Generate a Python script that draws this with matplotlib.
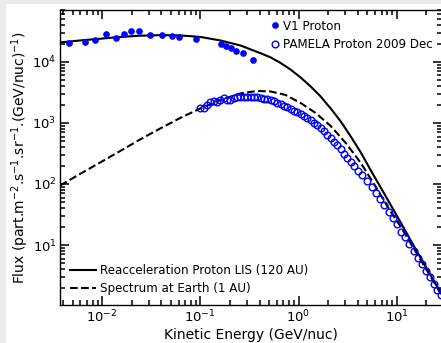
import matplotlib
matplotlib.use("Agg")
import matplotlib.pyplot as plt
from matplotlib.patches import Rectangle

# Voyager 1 proton flux (GeV/nuc, part/m2/s/sr/(GeV/nuc))
v1_energy = [0.00464, 0.00665, 0.00855, 0.0110, 0.0139, 0.01664, 0.0198, 0.0239,
             0.0307, 0.0407, 0.0514, 0.0601, 0.0910, 0.164, 0.184, 0.204,
             0.229, 0.270, 0.340]
v1_flux = [2.03e4, 2.13e4, 2.27e4, 2.91e4, 2.50e4, 2.91e4, 3.26e4, 3.18e4,
           2.80e4, 2.74e4, 2.70e4, 2.60e4, 2.38e4, 1.95e4, 1.85e4, 1.72e4,
           1.50e4, 1.39e4, 1.09e4]

# PAMELA protons, December 2009
pam_energy = [0.100, 0.110, 0.117, 0.126, 0.137, 0.148, 0.160, 0.173, 0.187, 0.202,
              0.219, 0.237, 0.256, 0.277, 0.300, 0.324, 0.350, 0.379, 0.410, 0.443,
              0.479, 0.518, 0.559, 0.606, 0.655, 0.708, 0.767, 0.828, 0.895, 0.970,
              1.048, 1.133, 1.227, 1.325, 1.432, 1.552, 1.675, 1.811, 1.963, 2.121,
              2.293, 2.483, 2.684, 2.900, 3.140, 3.394, 3.668, 4.027, 4.466, 4.943,
              5.521, 6.109, 6.760, 7.419, 8.222, 9.034, 10.0, 10.99, 12.07, 13.36,
              14.80, 16.26, 17.87, 19.77, 21.72, 23.68, 25.59, 28.12]
pam_flux = [1742, 1742, 1972, 2234, 2294, 2234, 2381, 2541, 2381, 2381,
            2541, 2700, 2700, 2700, 2700, 2700, 2700, 2636, 2541, 2472,
            2427, 2339, 2250, 2128, 2027, 1923, 1807, 1698, 1592, 1497,
            1406, 1303, 1208, 1099, 1000, 910, 813, 726, 636, 557,
            489, 428, 368, 311, 267, 230, 197, 166, 141, 112,
            89.3, 71.1, 56.7, 45.3, 35.4, 27.7, 21.7, 16.6, 13.3, 10.4,
            7.98, 6.24, 4.89, 3.82, 2.99, 2.30, 1.86, 1.51]

# reacceleration model, LIS at 120 AU
lis_energy = [0.00373, 0.00597, 0.00955, 0.01528, 0.0244, 0.0391, 0.0625, 0.1, 0.160,
              0.256, 0.410, 0.518, 0.655, 0.828, 1.048, 1.325, 1.675, 2.121, 2.684,
              3.394, 4.30, 5.44, 7.73, 11.0, 15.6, 22.2, 29.4]
lis_flux = [2.09e4, 2.25e4, 2.40e4, 2.57e4, 2.69e4, 2.75e4, 2.72e4, 2.57e4, 2.25e4,
            1.86e4, 1.39e4, 1.19e4, 9.63e3, 7.50e3, 5.57e3, 3.97e3, 2.72e3, 1.73e3,
            1.06e3, 601, 328, 166, 62.4, 23.0, 8.43, 3.16, 1.43]

# modulated spectrum at 1 AU
earth_energy = [0.00373, 0.00597, 0.00955, 0.01528, 0.0244, 0.0391, 0.0625, 0.1, 0.160,
                0.256, 0.379, 0.518, 0.736, 1.048, 1.489, 2.121, 3.02, 4.30, 6.11,
                8.69, 11.0, 15.6, 22.2, 29.4]
earth_flux = [94.4, 146, 225, 347, 537, 813, 1208, 1730, 2381,
              3048, 3350, 3284, 2877, 2128, 1459, 893, 470, 221, 89.3,
              34.8, 19.7, 7.67, 2.99, 1.38]

fig = plt.figure(figsize=(4.41, 3.43), dpi=100, facecolor="white")
# thin grey margin along the top and left edges
fig.patches.append(Rectangle((0, 0), 6 / 441, 1, transform=fig.transFigure,
                             facecolor="#ebebeb", edgecolor="none"))
fig.patches.append(Rectangle((0, 1 - 4 / 343), 1, 4 / 343, transform=fig.transFigure,
                             facecolor="#ebebeb", edgecolor="none"))
ax = fig.add_axes([60 / 441, 38 / 343, 382 / 441, 295 / 343])

l1, = ax.plot(lis_energy, lis_flux, color="black", lw=1.5,
              label="Reacceleration Proton LIS (120 AU)")
l2, = ax.plot(earth_energy, earth_flux, color="black", lw=1.5, ls="--",
              label="Spectrum at Earth (1 AU)")
p1, = ax.plot(v1_energy, v1_flux, "o", color="blue", ms=3.8, ls="none",
              label="V1 Proton", zorder=3)
p2, = ax.plot(pam_energy, pam_flux, "o", mfc="none", mec="blue", mew=1.0, ms=4.8,
              ls="none", label="PAMELA Proton 2009 Dec", zorder=3)

ax.set_xscale("log")
ax.set_yscale("log")
ax.set_xlim(3.73e-3, 28.8)
ax.set_ylim(1.04, 7.1e4)
for side in ax.spines.values():
    side.set_linewidth(1.0)
ax.tick_params(which="both", direction="in", top=True, right=True, labelsize=9.5,
               width=1.1, pad=2.5, color="black")
ax.tick_params(which="major", length=6.5)
ax.tick_params(which="minor", length=3.5)

ax.set_xlabel("Kinetic Energy (GeV/nuc)", fontsize=10, labelpad=2)
ax.set_ylabel("Flux (part.m$^{-2}$.s$^{-1}$.sr$^{-1}$.(GeV/nuc)$^{-1}$)",
              fontsize=10, labelpad=1)

leg1 = ax.legend(handles=[p1, p2], loc="upper right", frameon=False, numpoints=1,
                 fontsize=8.6, handlelength=0.6, handletextpad=0.35,
                 borderaxespad=0.4, labelspacing=0.45)
ax.add_artist(leg1)
ax.legend(handles=[l1, l2], loc="lower left", frameon=False, fontsize=8.6,
          handlelength=2.2, handletextpad=0.35, borderaxespad=0.4, labelspacing=0.45)

fig.savefig("out.png", dpi=100)
